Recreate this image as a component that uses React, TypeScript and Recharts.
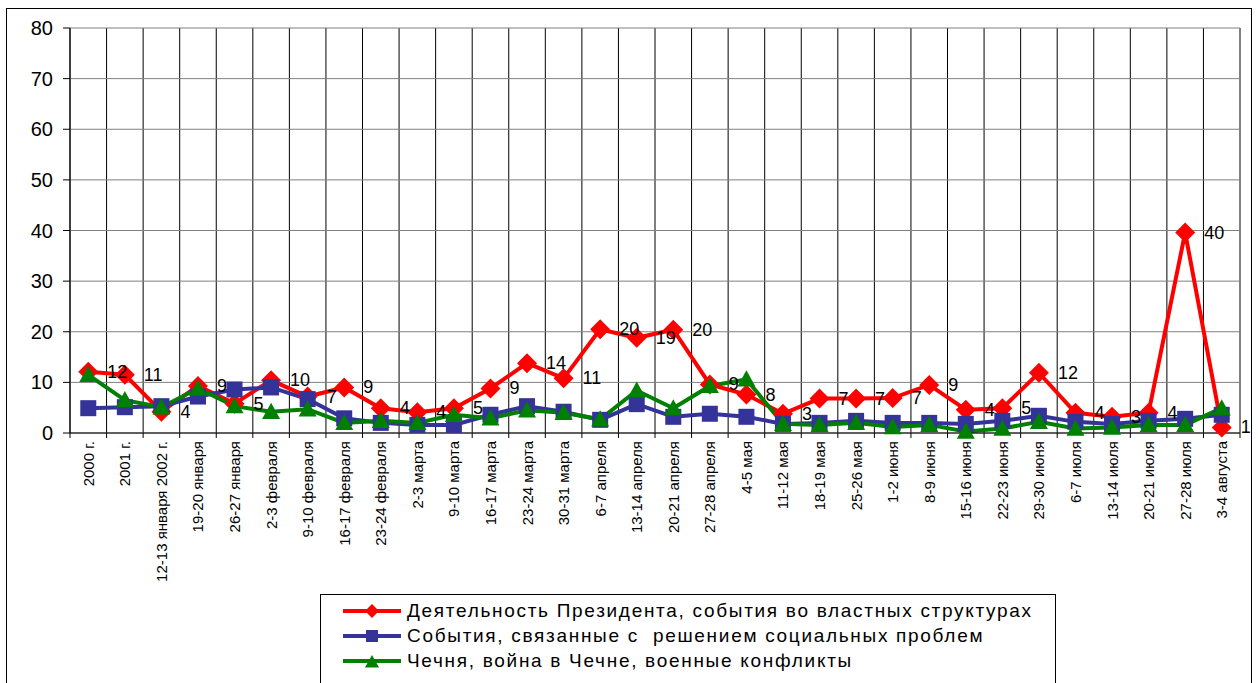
import React from 'react';
import { LineChart, Line, XAxis, YAxis, CartesianGrid, Legend, LabelList } from 'recharts';

const categories = [
  '2000 г.', '2001 г.', '12-13 января 2002 г.', '19-20 января', '26-27 января',
  '2-3 февраля', '9-10 февраля', '16-17 февраля', '23-24 февраля', '2-3 марта',
  '9-10 марта', '16-17 марта', '23-24 марта', '30-31 марта', '6-7 апреля',
  '13-14 апреля', '20-21 апреля', '27-28 апреля', '4-5 мая', '11-12 мая',
  '18-19 мая', '25-26 мая', '1-2 июня', '8-9 июня', '15-16 июня',
  '22-23 июня', '29-30 июня', '6-7 июля', '13-14 июля', '20-21 июля',
  '27-28 июля', '3-4 августа',
];

const presidentValues = [
  12.1, 11.5, 4.2, 9.3, 5.8, 10.4, 7.2, 9.0, 4.9, 4.1, 4.9, 8.8, 13.8, 10.8, 20.5, 18.8,
  20.4, 9.6, 7.6, 3.8, 6.8, 6.8, 6.9, 9.5, 4.6, 4.9, 11.9, 4.0, 3.2, 4.0, 39.6, 1.1,
];
const presidentLabels = [
  12, 11, 4, 9, 5, 10, 7, 9, 4, 4, 5, 9, 14, 11, 20, 19,
  20, 9, 8, 3, 7, 7, 7, 9, 4, 5, 12, 4, 3, 4, 40, 1,
];
const socialValues = [
  4.9, 5.1, 5.3, 7.2, 8.6, 9.0, 6.7, 2.9, 2.0, 1.6, 1.6, 3.6, 5.3, 4.2, 2.6, 5.7,
  3.2, 3.8, 3.2, 1.8, 2.0, 2.4, 2.0, 2.0, 1.8, 2.4, 3.4, 2.2, 1.8, 2.4, 2.8, 3.6,
];
const chechnyaValues = [
  11.5, 6.5, 5.1, 8.8, 5.3, 4.2, 4.7, 2.0, 2.4, 2.0, 3.6, 2.9, 4.5, 4.0, 2.7, 8.4,
  4.9, 9.3, 10.6, 1.8, 1.6, 2.0, 1.2, 1.6, 0.3, 0.9, 2.2, 0.9, 1.1, 1.6, 1.6, 4.9,
];
const yTicks = [0, 10, 20, 30, 40, 50, 60, 70, 80];

const seriesNames = [
  'Деятельность Президента, события во властных структурах',
  'События, связанные с  решением социальных проблем',
  'Чечня, война в Чечне, военные конфликты',
];

const RED = '#ff0000';
const BLUE = '#333399';
const GREEN = '#008000';
const FONT = '"Liberation Sans", Arial, sans-serif';

const chartData = categories.map((name, i) => ({
  name,
  president: presidentValues[i],
  social: socialValues[i],
  chechnya: chechnyaValues[i],
}));

const CHART_W = 1258;
const CHART_H = 683;
const MARGIN = { top: 28, right: 18, bottom: 0, left: 0 };
const Y_WIDTH = 70;
const PLOT_W = CHART_W - Y_WIDTH - MARGIN.right;
const HALF_BAND = PLOT_W / categories.length / 2;

const Diamond = ({ cx, cy, fill, r }: any) => {
  if (cx == null || cy == null) return null;
  return <polygon points={`${cx},${cy - r} ${cx + r},${cy} ${cx},${cy + r} ${cx - r},${cy}`} fill={fill} />;
};

const Square = ({ cx, cy, fill, r }: any) => {
  if (cx == null || cy == null) return null;
  return <rect x={cx - r} y={cy - r} width={r * 2} height={r * 2} fill={fill} />;
};

const Triangle = ({ cx, cy, fill, r }: any) => {
  if (cx == null || cy == null) return null;
  return <polygon points={`${cx},${cy - r} ${cx + r},${cy + r * 0.8} ${cx - r},${cy + r * 0.8}`} fill={fill} />;
};

const XTick = ({ x, y, payload, index }: any) => (
  <g>
    <line x1={x - HALF_BAND} y1={y} x2={x - HALF_BAND} y2={y + 5} stroke="#000" />
    {index === categories.length - 1 && (
      <line x1={x + HALF_BAND} y1={y} x2={x + HALF_BAND} y2={y + 5} stroke="#000" />
    )}
    <text
      x={x}
      y={y + 8}
      transform={`rotate(-90 ${x} ${y + 8})`}
      textAnchor="end"
      dominantBaseline="central"
      fontSize={15}
      fontFamily={FONT}
      fill="#000"
    >
      {payload.value}
    </text>
  </g>
);

const renderPresidentLabel = (props: any) => {
  const { x, y, index } = props;
  return (
    <text x={x + 19} y={y} dominantBaseline="central" fontSize={18} fontFamily={FONT} fill="#000">
      {presidentLabels[index]}
    </text>
  );
};

const markers = [Diamond, Square, Triangle];
const colors = [RED, BLUE, GREEN];

const LegendBox = () => (
  <div
    style={{
      border: '1px solid #000',
      background: '#fff',
      width: 736,
      height: 100,
      boxSizing: 'border-box',
      paddingTop: 3,
    }}
  >
    {seriesNames.map((name, i) => {
      const Marker = markers[i];
      return (
        <div key={name} style={{ display: 'flex', alignItems: 'center', height: 25 }}>
          <svg width={86} height={20} style={{ flex: 'none' }}>
            <line x1={22} y1={10} x2={80} y2={10} stroke={colors[i]} strokeWidth={4} />
            <Marker cx={51} cy={i === 2 ? 11 : 10} r={i === 1 ? 6 : 7} fill={colors[i]} />
          </svg>
          <span
            style={{ fontFamily: FONT, fontSize: 19, letterSpacing: 1.7, color: '#000', whiteSpace: 'pre' }}
          >
            {name}
          </span>
        </div>
      );
    })}
  </div>
);

export default function App() {
  return (
    <div style={{ position: 'absolute', left: 0, top: 0, width: CHART_W, height: CHART_H, background: '#fff' }}>
      <div
        style={{
          position: 'absolute',
          left: 6,
          top: 8,
          width: 1246,
          height: 690,
          border: '1px solid #000',
          boxSizing: 'border-box',
        }}
      />
      <LineChart width={CHART_W} height={CHART_H} data={chartData} margin={MARGIN}>
        <CartesianGrid
          stroke="#000"
          horizontal={false}
          verticalCoordinatesGenerator={({ offset }: any) =>
            categories.map((_, i) => offset.left + (i * offset.width) / categories.length).concat(offset.left + offset.width)
          }
        />
        <CartesianGrid stroke="#808080" vertical={false} />
        <XAxis
          dataKey="name"
          interval={0}
          height={CHART_H - 433}
          padding={{ left: HALF_BAND, right: HALF_BAND }}
          axisLine={{ stroke: '#000' }}
          tickLine={false}
          tickSize={0}
          tickMargin={0}
          tick={<XTick />}
        />
        <YAxis
          width={Y_WIDTH}
          domain={[0, 80]}
          ticks={yTicks}
          interval={0}
          axisLine={{ stroke: '#000' }}
          tickLine={{ stroke: '#000' }}
          tickSize={7}
          tickMargin={10}
          tick={{ fontSize: 20, fontFamily: FONT, fill: '#000' }}
        />
        <Legend
          layout="vertical"
          align="center"
          verticalAlign="middle"
          wrapperStyle={{ left: 320, top: 594, width: 736 }}
          content={() => <LegendBox />}
        />
        <Line
          dataKey="president"
          name={seriesNames[0]}
          stroke={RED}
          strokeWidth={4}
          isAnimationActive={false}
          dot={(p: any) => <Diamond key={`d-${p.index}`} cx={p.cx} cy={p.cy} r={10} fill={RED} />}
        >
          <LabelList dataKey="president" content={renderPresidentLabel} />
        </Line>
        <Line
          dataKey="social"
          name={seriesNames[1]}
          stroke={BLUE}
          strokeWidth={4}
          isAnimationActive={false}
          dot={(p: any) => <Square key={`s-${p.index}`} cx={p.cx} cy={p.cy} r={8} fill={BLUE} />}
        />
        <Line
          dataKey="chechnya"
          name={seriesNames[2]}
          stroke={GREEN}
          strokeWidth={4}
          isAnimationActive={false}
          dot={(p: any) => <Triangle key={`t-${p.index}`} cx={p.cx} cy={p.cy} r={9} fill={GREEN} />}
        />
      </LineChart>
    </div>
  );
}
